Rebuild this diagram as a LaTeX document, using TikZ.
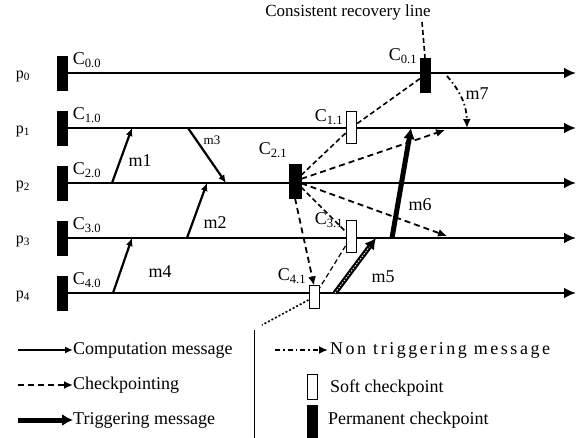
\documentclass[tikz,border=0pt]{standalone}
\usepackage{fontspec}
\setmainfont{Liberation Serif}
\newfontfamily\spacedfont[LetterSpace=14]{Liberation Serif}
\usetikzlibrary{arrows.meta}

\begin{document}
\begin{tikzpicture}[x=1pt, y=-1pt,
  every node/.style={font=\fontsize{18}{18}\selectfont, inner sep=1pt},
  proc/.style={line width=2.8pt, -{Latex[length=12pt,width=11pt]}},
  comp/.style={line width=2.2pt, -{Latex[length=8pt,width=7pt]}},
  ckpt/.style={line width=1.8pt, dash pattern=on 6pt off 4pt, -{Latex[length=9pt,width=8pt]}},
  trig/.style={line width=5pt, -{Latex[length=11pt,width=12pt]}},
  nontrig/.style={line width=1.8pt, dash pattern=on 5pt off 3pt on 1.5pt off 3pt, -{Latex[length=9pt,width=8pt]}},
  recov/.style={line width=1.6pt, dash pattern=on 5pt off 3pt},
  perm/.style={draw, fill=black, inner sep=0pt, minimum width=10pt, minimum height=34pt},
  soft/.style={draw, fill=white, line width=1pt, inner sep=0pt, minimum width=10pt, minimum height=32pt},
  msg/.style={font=\fontsize{18}{18}\selectfont}
]
  \useasboundingbox (0,0) rectangle (578,438);

  % processes
  \foreach \i/\y in {0/73,1/128,2/183,3/238,4/293} {
    \node[perm] (C\i0) at (62,\y) {};
    \node[font=\fontsize{16}{16}\selectfont] (P\i) at (23,\y+3) {p\textsubscript{\i}};
    \node (L\i0) at (87,\y-13) {C\textsubscript{\i.0}};
    \coordinate (E\i) at (576,\y);
    \draw[proc] (C\i0) -- (E\i);
  }

  % later checkpoints
  \node[perm] (C01) at (425,75) {};
  \node[soft] (C11) at (351,128) {};
  \node[perm, minimum width=12pt] (C21) at (295,181) {};
  \node[soft] (C31) at (351,237) {};
  \node[soft, minimum height=22pt] (C41) at (314,297) {};
  \node (L01) at (403,56) {C\textsubscript{0.1}};
  \node (L11) at (329,117) {C\textsubscript{1.1}};
  \node (L21) at (273,150) {C\textsubscript{2.1}};
  \node (L31) at (329,220) {C\textsubscript{3.1}};
  \node (L41) at (292,276) {C\textsubscript{4.1}};

  % computation messages
  \coordinate (m1s) at (112,183); \coordinate (m1t) at (132,128);
  \coordinate (m3s) at (188,128); \coordinate (m3t) at (226,183);
  \coordinate (m2s) at (187,238); \coordinate (m2t) at (207,183);
  \coordinate (m4s) at (113,293); \coordinate (m4t) at (132,238);
  \draw[comp] (m1s) -- (m1t);
  \draw[comp] (m3s) -- (m3t);
  \draw[comp] (m2s) -- (m2t);
  \draw[comp] (m4s) -- (m4t);
  \node[msg] (m1) at (140,161) {m1};
  \node[font=\fontsize{13}{13}\selectfont] (m3) at (212,140) {m3};
  \node[msg] (m2) at (215,223) {m2};
  \node[msg] (m4) at (160,272) {m4};

  % triggering messages
  \coordinate (m5s) at (335,293); \coordinate (m5t) at (376,238);
  \coordinate (m6s) at (392,238); \coordinate (m6t) at (411,128);
  \draw[trig] (m5s) -- (m5t);
  \draw[white, line width=0.8pt, dash pattern=on 1.5pt off 1.5pt, shorten >=11pt] (m5s) -- (m5t);
  \draw[trig] (m6s) -- (m6t);
  \node[msg] (m5) at (383,277) {m5};
  \node[msg] (m6) at (420,205) {m6};

  % non triggering message
  \coordinate (m7s) at (447,76); \coordinate (m7t) at (467,128);
  \draw[nontrig] (m7s) to[bend left=20] (m7t);
  \node[msg] (m7) at (477,94) {m7};

  % checkpointing requests
  \coordinate (k1) at (445,130);
  \coordinate (k3) at (447,236);
  \draw[ckpt] (C21) -- (k1);
  \draw[ckpt] (C21) -- (k3);
  \draw[ckpt] (C21.south) -- (C41.north);

  % recovery line
  \node[font=\fontsize{17}{17}\selectfont] (RL) at (348,12) {Consistent recovery line};
  \coordinate (rtop) at (422,22);
  \coordinate (rbot) at (262,325);
  \draw[recov] (rtop) -- (C01.north);
  \draw[recov] (C01) -- (C11);
  \draw[recov] (C11) -- (C21);
  \draw[recov] (C21) -- (C31);
  \draw[recov, line width=1.2pt] (C31) -- (C41);
  \draw[line width=1.6pt, dash pattern=on 2pt off 2pt] (C41) -- (rbot);

  % legend
  \coordinate (sepa) at (254,330); \coordinate (sepb) at (254,438);
  \draw[line width=1pt] (sepa) -- (sepb);
  \coordinate (g1a) at (18,350); \coordinate (g1b) at (73,350);
  \coordinate (g2a) at (18,385); \coordinate (g2b) at (73,385);
  \coordinate (g3a) at (18,420); \coordinate (g3b) at (73,420);
  \coordinate (g4a) at (275,350); \coordinate (g4b) at (328,350);
  \draw[comp] (g1a) -- (g1b);
  \draw[ckpt] (g2a) -- (g2b);
  \draw[trig] (g3a) -- (g3b);
  \draw[nontrig] (g4a) -- (g4b);
  \node[anchor=west, inner sep=0pt] (t1) at (g1b) {Computation message};
  \node[anchor=west, inner sep=0pt] (t2) at (g2b) {Checkpointing};
  \node[anchor=west, inner sep=0pt] (t3) at (g3b) {Triggering message};
  \node[anchor=west, inner sep=0pt] (t4) at (330,350) {\spacedfont Non triggering message};
  \node[soft, minimum height=25pt] (gs) at (312,387) {};
  \node[perm] (gp) at (312,422) {};
  \node[anchor=west, inner sep=0pt] (t5) at (330,388) {Soft checkpoint};
  \node[anchor=west, inner sep=0pt] (t6) at (328,420) {Permanent checkpoint};
\end{tikzpicture}
\end{document}
